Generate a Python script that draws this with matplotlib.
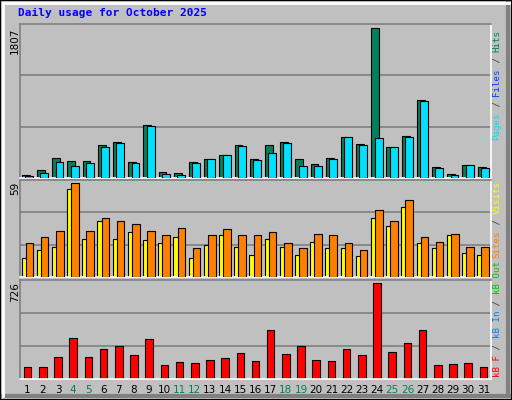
import matplotlib
matplotlib.use("Agg")
import matplotlib.pyplot as plt
from matplotlib.patches import Rectangle
from matplotlib.lines import Line2D

days = list(range(1, 32))
hits = [33,94,242,205,205,402,439,193,637,70,57,193,230,279,402,230,402,439,230,168,242,501,415,1807,378,513,945,131,45,156,131]
pages = [21,57,193,144,181,378,427,181,624,45,33,181,230,279,390,218,304,427,144,144,230,501,402,489,378,501,932,119,33,156,119]
visits = [12,17,19,55,24,35,24,28,23,21,25,12,20,26,19,14,24,19,14,22,18,18,13,37,32,44,21,18,26,15,14]
sites = [21,25,29,59,29,37,35,33,29,26,31,18,26,30,26,26,28,21,18,27,26,21,17,42,35,48,25,22,27,19,19]
kbytes = [88,88,168,311,168,223,247,184,303,104,128,120,144,160,199,136,367,191,247,144,136,223,184,726,207,271,367,104,112,120,88]
weekends = [4,5,11,12,18,19,25,26]
max_hits, max_visits, max_kb = 1807, 59, 726

W, H = 512, 400
fig = plt.figure(figsize=(W/100, H/100), dpi=100, facecolor="#C0C0C0")

def px(x0, y0, x1, y1):
    return [x0/W, 1-y1/H, (x1-x0)/W, (y1-y0)/H]

fig.add_artist(Rectangle((0,0),1,1,transform=fig.transFigure,fill=False,ec="black",lw=1.5))
fig.add_artist(Line2D([3/W,1-3/W],[4/H,4/H],transform=fig.transFigure,color="#808080",lw=3))
fig.add_artist(Line2D([1-4/W,1-4/W],[4/H,1-3/H],transform=fig.transFigure,color="#808080",lw=3))
fig.add_artist(Line2D([3/W,3/W],[4/H,1-3/H],transform=fig.transFigure,color="white",lw=2))
fig.add_artist(Line2D([3/W,1-3/W],[1-3/H,1-3/H],transform=fig.transFigure,color="white",lw=2))

fig.text(18/W, 1-16/H, "Daily usage for October 2025", color="#0000FF",
         family="DejaVu Sans Mono", weight="bold", fontsize=8, va="baseline")

def panel(y0, y1, vmax):
    ax = fig.add_axes(px(20, y0, 491, y1))
    ax.set_facecolor("#C0C0C0")
    ax.set_xlim(0.5, 31.5)
    ax.set_ylim(0, vmax)
    ax.set_xticks([]); ax.set_yticks([])
    for s in ["top","left"]:
        ax.spines[s].set_color("#808080")
    for s in ["bottom","right"]:
        ax.spines[s].set_color("white")
    for s in ax.spines.values():
        s.set_linewidth(1.2)
    for f in (1/3, 2/3):
        ax.axhline(vmax*f, color="#808080", lw=1.2, zorder=0)
    return ax

ax1 = panel(24, 178, max_hits*1.03)
ax1.bar([d-0.12 for d in days], hits, width=0.52, color="#00805C", ec="black", lw=0.8, zorder=2)
ax1.bar([d+0.1 for d in days], pages, width=0.52, color="#00E0FF", ec="black", lw=0.8, zorder=3)

ax2 = panel(180, 277, max_visits*1.03)
ax2.bar([d-0.15 for d in days], visits, width=0.5, color="#FFFF00", ec="black", lw=0.8, zorder=2)
ax2.bar([d+0.12 for d in days], sites, width=0.5, color="#FF8000", ec="black", lw=0.8, zorder=3)

ax3 = panel(280, 379, max_kb*1.03)
ax3.bar(days, kbytes, width=0.5, color="#FF0000", ec="black", lw=0.8, zorder=2)
ax3.set_xticks(days)
ax3.set_xticklabels([str(d) for d in days], fontsize=7.5)
ax3.tick_params(length=0, pad=4)
for lab, d in zip(ax3.get_xticklabels(), days):
    lab.set_color("#00805C" if d in weekends else "black")

for val, ytop in [(max_hits, 28), (max_visits, 182), (max_kb, 282)]:
    fig.text(15/W, 1-ytop/H, str(val), rotation=90, fontsize=7.5, ha="center", va="top")

FS = 6.6
CH = 0.602 * FS * 100 / 72
def vlabel(parts, ybottom):
    y = ybottom
    for txt, col in parts:
        fig.text(497/W, 1-y/H, txt, rotation=90, color=col, family="DejaVu Sans Mono",
                 fontsize=FS, ha="left", va="center", rotation_mode="anchor")
        y -= CH*len(txt)

SL = "#404040"
vlabel([("Pages", "#00E0FF"), (" / ", SL), ("Files", "#0040FF"), (" / ", SL), ("Hits", "#00805C")], 140)
vlabel([("Sites", "#FF8000"), (" / ", SL), ("Visits", "#FFFF00")], 258)
vlabel([("kB F", "#FF0000"), (" / ", SL), ("kB In", "#0080FF"), (" / ", SL), ("kB Out", "#00C000")], 377)

fig.savefig("out.png", dpi=100, facecolor=fig.get_facecolor())
